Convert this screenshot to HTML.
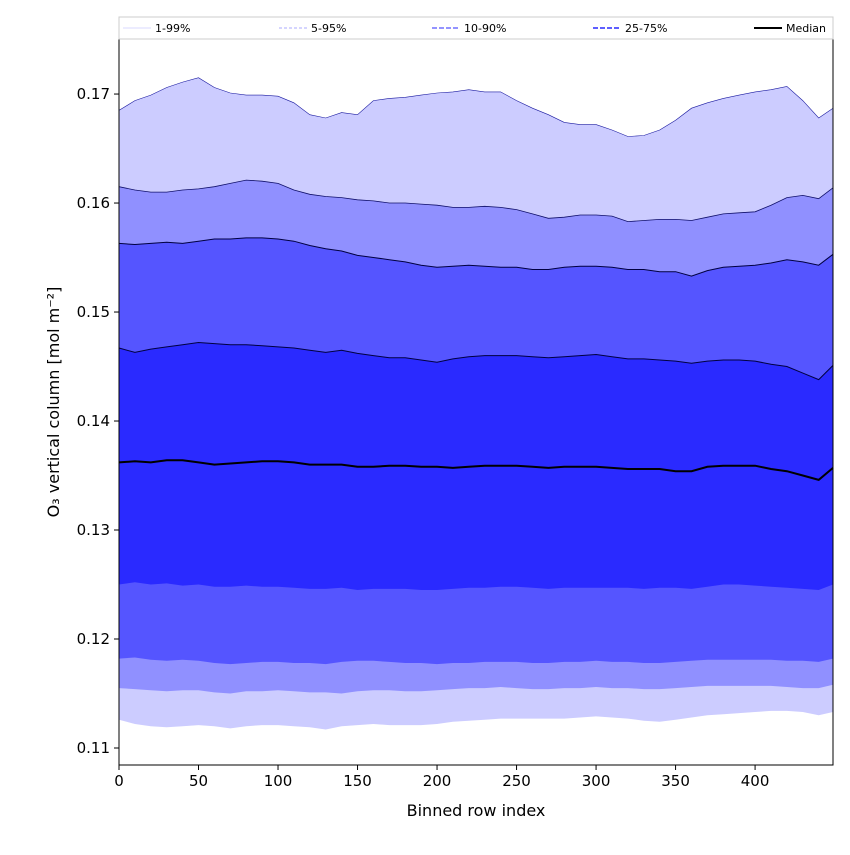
<!DOCTYPE html>
<html><head><meta charset="utf-8"><style>
body{margin:0;background:#fff}
svg text{font-family:"DejaVu Sans","Liberation Sans",sans-serif}
</style></head><body>
<svg id="chart" width="850" height="850" xmlns="http://www.w3.org/2000/svg">
<g id="bands"></g>
<g id="lines"></g>
<rect x="119" y="39" width="714" height="726" fill="none" stroke="#000" stroke-width="1"/>
<g id="xticks"></g>
<g id="yticks"></g>
<text x="476" y="816" font-size="16" text-anchor="middle">Binned row index</text>
<text transform="translate(59,402) rotate(-90)" font-size="16" text-anchor="middle">O₃ vertical column [mol m⁻²]</text>
<g>
<rect x="119" y="17" width="714" height="22" fill="#fff" stroke="#ccc"/>
<line x1="123" y1="28" x2="151" y2="28" stroke="#ccccff" stroke-width="0.8"/>
<text x="155" y="32" font-size="11">1-99%</text>
<line x1="279" y1="28" x2="307" y2="28" stroke="#9090ff" stroke-width="0.8" stroke-dasharray="3,2"/>
<text x="311" y="32" font-size="11">5-95%</text>
<line x1="432" y1="28" x2="460" y2="28" stroke="#5555ff" stroke-width="1.2" stroke-dasharray="5,2"/>
<text x="464" y="32" font-size="11">10-90%</text>
<line x1="593" y1="28" x2="621" y2="28" stroke="#2a2aff" stroke-width="1.5" stroke-dasharray="5,2"/>
<text x="625" y="32" font-size="11">25-75%</text>
<line x1="754" y1="28" x2="782" y2="28" stroke="#000" stroke-width="2"/>
<text x="786" y="32" font-size="11">Median</text>
</g>
</svg>
<script>
const rows=[0,10,20,30,40,50,60,70,80,90,100,110,120,130,140,150,160,170,180,190,200,210,220,230,240,250,260,270,280,290,300,310,320,330,340,350,360,370,380,390,400,410,420,430,440,449];
const p99=[.1685,.1694,.1699,.1706,.1711,.1715,.1706,.1701,.1699,.1699,.1698,.1692,.1681,.1678,.1683,.1681,.1694,.1696,.1697,.1699,.1701,.1702,.1704,.1702,.1702,.1694,.1687,.1681,.1674,.1672,.1672,.1667,.1661,.1662,.1667,.1676,.1687,.1692,.1696,.1699,.1702,.1704,.1707,.1694,.1678,.1687];
const p95=[.1615,.1612,.1610,.1610,.1612,.1613,.1615,.1618,.1621,.1620,.1618,.1612,.1608,.1606,.1605,.1603,.1602,.1600,.1600,.1599,.1598,.1596,.1596,.1597,.1596,.1594,.1590,.1586,.1587,.1589,.1589,.1588,.1583,.1584,.1585,.1585,.1584,.1587,.1590,.1591,.1592,.1598,.1605,.1607,.1604,.1614];
const p90=[.1563,.1562,.1563,.1564,.1563,.1565,.1567,.1567,.1568,.1568,.1567,.1565,.1561,.1558,.1556,.1552,.1550,.1548,.1546,.1543,.1541,.1542,.1543,.1542,.1541,.1541,.1539,.1539,.1541,.1542,.1542,.1541,.1539,.1539,.1537,.1537,.1533,.1538,.1541,.1542,.1543,.1545,.1548,.1546,.1543,.1553];
const p75=[.1467,.1463,.1466,.1468,.1470,.1472,.1471,.1470,.1470,.1469,.1468,.1467,.1465,.1463,.1465,.1462,.1460,.1458,.1458,.1456,.1454,.1457,.1459,.1460,.1460,.1460,.1459,.1458,.1459,.1460,.1461,.1459,.1457,.1457,.1456,.1455,.1453,.1455,.1456,.1456,.1455,.1452,.1450,.1444,.1438,.1451];
const median=[.1362,.1363,.1362,.1364,.1364,.1362,.1360,.1361,.1362,.1363,.1363,.1362,.1360,.1360,.1360,.1358,.1358,.1359,.1359,.1358,.1358,.1357,.1358,.1359,.1359,.1359,.1358,.1357,.1358,.1358,.1358,.1357,.1356,.1356,.1356,.1354,.1354,.1358,.1359,.1359,.1359,.1356,.1354,.1350,.1346,.1357];
const p25=[.1250,.1252,.1250,.1251,.1249,.1250,.1248,.1248,.1249,.1248,.1248,.1247,.1246,.1246,.1247,.1245,.1246,.1246,.1246,.1245,.1245,.1246,.1247,.1247,.1248,.1248,.1247,.1246,.1247,.1247,.1247,.1247,.1247,.1246,.1247,.1247,.1246,.1248,.1250,.1250,.1249,.1248,.1247,.1246,.1245,.1250];
const p10=[.1182,.1183,.1181,.1180,.1181,.1180,.1178,.1177,.1178,.1179,.1179,.1178,.1178,.1177,.1179,.1180,.1180,.1179,.1178,.1178,.1177,.1178,.1178,.1179,.1179,.1179,.1178,.1178,.1179,.1179,.1180,.1179,.1179,.1178,.1178,.1179,.1180,.1181,.1181,.1181,.1181,.1181,.1180,.1180,.1179,.1182];
const p5=[.1155,.1154,.1153,.1152,.1153,.1153,.1151,.1150,.1152,.1152,.1153,.1152,.1151,.1151,.1150,.1152,.1153,.1153,.1152,.1152,.1153,.1154,.1155,.1155,.1156,.1155,.1154,.1154,.1155,.1155,.1156,.1155,.1155,.1154,.1154,.1155,.1156,.1157,.1157,.1157,.1157,.1157,.1156,.1155,.1155,.1158];
const p1=[.1126,.1122,.1120,.1119,.1120,.1121,.1120,.1118,.1120,.1121,.1121,.1120,.1119,.1117,.1120,.1121,.1122,.1121,.1121,.1121,.1122,.1124,.1125,.1126,.1127,.1127,.1127,.1127,.1127,.1128,.1129,.1128,.1127,.1125,.1124,.1126,.1128,.1130,.1131,.1132,.1133,.1134,.1134,.1133,.1130,.1133];
const xTicks=[0,50,100,150,200,250,300,350,400];
const yTicks=[0.11,0.12,0.13,0.14,0.15,0.16,0.17];

const NS="http://www.w3.org/2000/svg";
const X0=119,X1=833,XMAX=449,YT=39,YB=765,VMAX=0.17505,VMIN=0.10844;
const sx=v=>X0+v*(X1-X0)/XMAX;
const sy=v=>YB-(v-VMIN)*(YB-YT)/(VMAX-VMIN);
function pts(arr){return rows.map((r,i)=>sx(r).toFixed(1)+","+sy(arr[i]).toFixed(1));}
function band(lo,hi,fill,name){
  const p=document.createElementNS(NS,"polygon");
  p.setAttribute("points",pts(hi).concat(pts(lo).reverse()).join(" "));
  p.setAttribute("fill",fill);
  
  
  document.getElementById("bands").appendChild(p);
}
function line(arr,stroke,w,name){
  const p=document.createElementNS(NS,"polyline");
  p.setAttribute("points",pts(arr).join(" "));
  p.setAttribute("fill","none");p.setAttribute("stroke",stroke);p.setAttribute("stroke-width",w);
  
  
  document.getElementById("lines").appendChild(p);
}
band(p1,p99,"#ccccff","band-1-99");
band(p5,p95,"#9090ff","band-5-95");
band(p10,p90,"#5555ff","band-10-90");
band(p25,p75,"#2a2aff","band-25-75");
line(p99,"#1a1aa0",0.6,"line-p99");
line(p95,"#10106a",0.8,"line-p95");
line(p90,"#000040",1,"line-p90");
line(p75,"#000040",1,"line-p75");
line(median,"#000",2,"median-line");
const xg=document.getElementById("xticks");
xTicks.forEach(t=>{
  const l=document.createElementNS(NS,"line");
  l.setAttribute("x1",sx(t));l.setAttribute("x2",sx(t));l.setAttribute("y1",YB);l.setAttribute("y2",YB+5);l.setAttribute("stroke","#000");
  
  
  xg.appendChild(l);
  const s=document.createElementNS(NS,"text");
  s.setAttribute("x",sx(t));s.setAttribute("y",YB+21);s.setAttribute("font-size","15");s.setAttribute("text-anchor","middle");
  s.textContent=t;
  
  
  xg.appendChild(s);
});
const yg=document.getElementById("yticks");
yTicks.forEach(t=>{
  const l=document.createElementNS(NS,"line");
  l.setAttribute("x1",X0-5);l.setAttribute("x2",X0);l.setAttribute("y1",sy(t));l.setAttribute("y2",sy(t));l.setAttribute("stroke","#000");
  
  
  yg.appendChild(l);
  const s=document.createElementNS(NS,"text");
  s.setAttribute("x",X0-9);s.setAttribute("y",sy(t)+5);s.setAttribute("font-size","15");s.setAttribute("text-anchor","end");
  s.textContent=t.toFixed(2);
  
  
  yg.appendChild(s);
});
</script>
</body></html>
